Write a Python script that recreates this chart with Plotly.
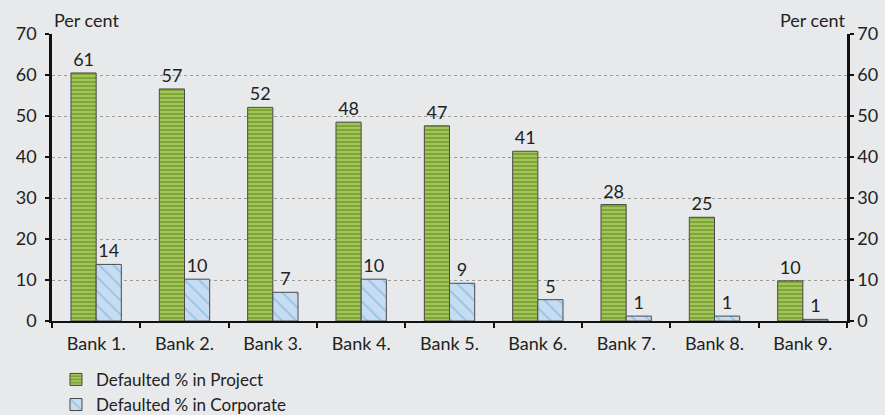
import plotly.graph_objects as go

banks = ["Bank 1.", "Bank 2.", "Bank 3.", "Bank 4.", "Bank 5.", "Bank 6.", "Bank 7.", "Bank 8.", "Bank 9."]
project = [60.5, 56.6, 52.1, 48.5, 47.6, 41.4, 28.4, 25.3, 9.8]
project_labels = ["61", "57", "52", "48", "47", "41", "28", "25", "10"]
corporate = [13.8, 10.2, 7.0, 10.2, 9.2, 5.2, 1.2, 1.2, 0.4]
corporate_labels = ["14", "10", "7", "10", "9", "5", "1", "1", "1"]
y_ticks = [0, 10, 20, 30, 40, 50, 60, 70]

FONT = "Lato, 'Open Sans', sans-serif"
BG = "#e8e9eb"
FS = 18

fig = go.Figure()
fig.add_trace(go.Bar(
    x=banks, y=project, name="Defaulted % in Project",
    text=project_labels, textposition="outside", cliponaxis=False,
    textfont=dict(size=FS, color="#222"),
    marker=dict(color="#7ea631", line=dict(color="#4a4a4a", width=1),
                pattern=dict(shape="-", fgcolor="#c8de93", bgcolor="#7ea631", size=4, solidity=0.5)),
))
fig.add_trace(go.Bar(
    x=banks, y=corporate, name="Defaulted % in Corporate",
    text=corporate_labels, textposition="outside", cliponaxis=False,
    textfont=dict(size=FS, color="#222"),
    marker=dict(color="#c6dcf1", line=dict(color="#4a4a4a", width=1),
                pattern=dict(shape="\\", fgcolor="#5fa8dd", bgcolor="#c6dcf1", size=10, solidity=0.18)),
))
fig.add_trace(go.Scatter(x=banks, y=[None]*len(banks), yaxis="y2", showlegend=False, hoverinfo="skip"))

fig.update_layout(
    width=885, height=415,
    margin=dict(l=52, r=38, t=34, b=94, autoexpand=False),
    paper_bgcolor=BG, plot_bgcolor=BG,
    font=dict(family=FONT, size=FS, color="#222"),
    barmode="group", bargap=0.43, bargroupgap=0,
    xaxis=dict(showline=True, linecolor="#111", linewidth=2, ticks="outside", tickson="boundaries",
               ticklen=5, tickcolor="#111", tickwidth=2, tickfont=dict(size=FS), showgrid=False,
               automargin=False, ticklabelstandoff=5),
    yaxis=dict(range=[0, 70], tickvals=y_ticks, showline=True, linecolor="#111", linewidth=2.5,
               ticks="outside", ticklen=4, tickcolor="#111", tickwidth=2,
               showgrid=True, gridcolor="#9a9a9a", griddash="dot", gridwidth=1,
               zeroline=False, tickfont=dict(size=FS), automargin=False, ticklabelstandoff=5),
    yaxis2=dict(range=[0, 70], tickvals=y_ticks, overlaying="y", side="right", showline=True,
                linecolor="#111", linewidth=2.5, ticks="outside", ticklen=4, tickcolor="#111", tickwidth=2,
                showgrid=False, zeroline=False, tickfont=dict(size=FS), automargin=False),
    legend=dict(x=0.005, xanchor="left", yref="container", y=0.128, yanchor="top", orientation="v",
                font=dict(size=17), bgcolor="rgba(0,0,0,0)", tracegroupgap=0, itemwidth=30),
    annotations=[
        dict(text="Per cent", xref="paper", yref="paper", x=0, xanchor="left", y=1.0, yanchor="bottom",
             yshift=1, showarrow=False, font=dict(size=FS)),
        dict(text="Per cent", xref="paper", yref="paper", x=1, xanchor="right", y=1.0, yanchor="bottom",
             yshift=1, showarrow=False, font=dict(size=FS)),
    ],
)

fig.write_html("out.html", config={"displayModeBar": False},
               post_script="document.body.style.margin='0px';document.body.style.background='%s';" % BG)
